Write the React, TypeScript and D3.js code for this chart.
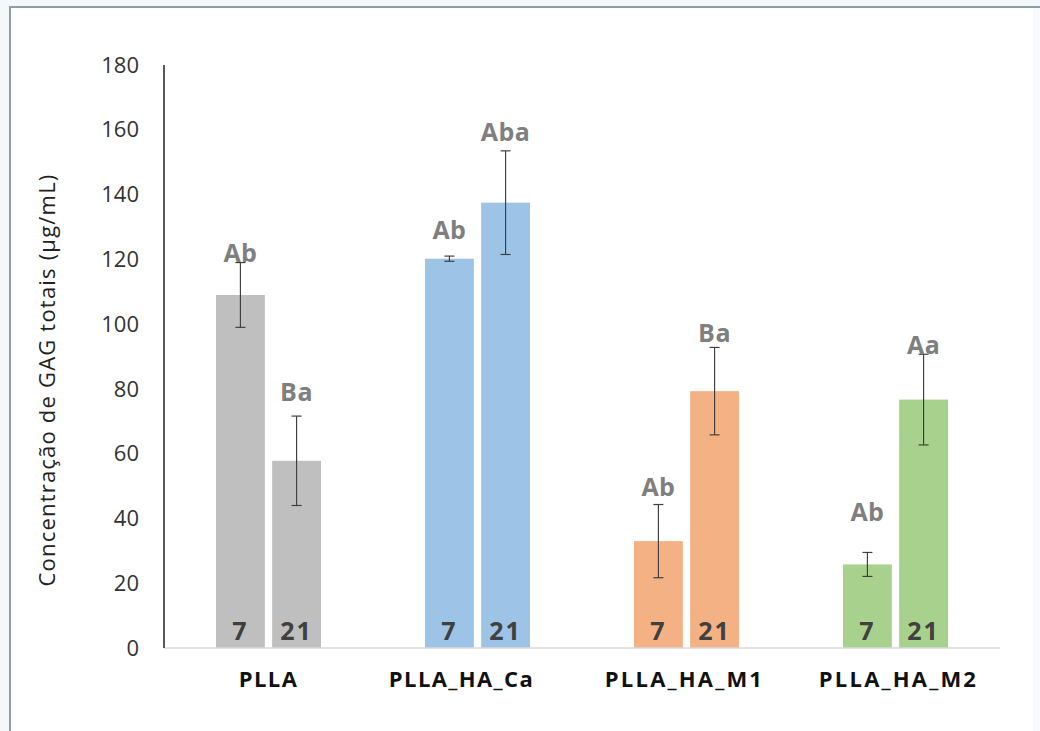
import React from "react";
import * as d3 from "d3";

const categories = ["PLLA", "PLLA_HA_Ca", "PLLA_HA_M1", "PLLA_HA_M2"];
const days = ["7", "21"];
const day7Values = [109, 120.2, 33, 25.8];
const day21Values = [57.8, 137.5, 79.3, 76.7];
const day7Errors = [10, 0.8, 11.3, 3.7];
const day21Errors = [13.8, 16, 13.5, 14];
const day7Letters = ["Ab", "Ab", "Ab", "Ab"];
const day21Letters = ["Ba", "Aba", "Ba", "Aa"];
const day7LetterLevel = [122, 129, 49.7, 42];
const day21LetterLevel = [79, 159.3, 97.3, 93.5];
const yTicks = [0, 20, 40, 60, 80, 100, 120, 140, 160, 180];
const yTitle = "Concentração de GAG totais (µg/mL)";

const colors = ["#bfbfbf", "#9dc3e6", "#f4b183", "#a9d18e"];

export default function App() {
  const W = 1040, H = 731;
  const left = 164, right = 1000, top = 65, bottom = 648;
  const x = d3.scaleBand<string>().domain(categories).range([left, right]).paddingInner(0).paddingOuter(0);
  const inner = d3.scaleBand<string>().domain(days).range([0, 105]).paddingInner(0.13).paddingOuter(0);
  const y = d3.scaleLinear().domain([0, 180]).range([bottom, top]);
  const bw = inner.bandwidth();
  const font = "'Open Sans', 'Liberation Sans', sans-serif";
  const catNudge: Record<string, number> = { PLLA: 0, PLLA_HA_Ca: -16, PLLA_HA_M1: -2, PLLA_HA_M2: 3 };
  const catSpacing: Record<string, number> = { PLLA: 1.4, PLLA_HA_Ca: 1.4, PLLA_HA_M1: 2.2, PLLA_HA_M2: 2.2 };

  const series = [
    { day: "7", values: day7Values, errors: day7Errors, letters: day7Letters, level: day7LetterLevel },
    { day: "21", values: day21Values, errors: day21Errors, letters: day21Letters, level: day21LetterLevel },
  ];

  return (
    <svg width={W} height={H} style={{ position: "absolute", left: 0, top: 0, display: "block" }}>
      <rect x={0} y={0} width={W} height={H} fill="#f3f9fb" />
      <rect x={10} y={7} width={1060} height={740} fill="#ffffff" stroke="#8e9ea3" strokeWidth={2} />
      <rect x={1033} y={8} width={7} height={H} fill="#f6fbfd" />
      {yTicks.map((t) => (
        <text key={t} x={139} y={y(t)} dy="0.35em" textAnchor="end" fontFamily={font} fontSize={22} fill="#333">
          {t}
        </text>
      ))}
      <text
        transform={`translate(47,${380}) rotate(-90)`}
        textAnchor="middle"
        dy="0.35em"
        fontFamily={font}
        fontSize={22}
        letterSpacing={1.2}
        fill="#222"
      >
        {yTitle}
      </text>
      {categories.map((c, i) => {
        const gx = (x(c) as number) + (x.bandwidth() - 105) / 2;
        return (
          <g key={c}>
            {series.map((s) => {
              const bx = gx + (inner(s.day) as number);
              const cx = bx + bw / 2;
              const v = s.values[i], e = s.errors[i];
              return (
                <g key={s.day}>
                  <rect x={bx} y={y(v)} width={bw} height={bottom - y(v)} fill={colors[i]} />
                  <line x1={cx} x2={cx} y1={y(v + e)} y2={y(v - e)} stroke="#404040" strokeWidth={1.2} />
                  <line x1={cx - 5} x2={cx + 5} y1={y(v + e)} y2={y(v + e)} stroke="#404040" strokeWidth={1.2} />
                  <line x1={cx - 5} x2={cx + 5} y1={y(v - e)} y2={y(v - e)} stroke="#404040" strokeWidth={1.2} />
                  <text x={cx} y={y(s.level[i])} dy="0.35em" textAnchor="middle" fontFamily={font} fontWeight={700} fontSize={25} letterSpacing={0.5} fill="#7f7f7f">
                    {s.letters[i]}
                  </text>
                  <text x={cx} y={640} textAnchor="middle" fontFamily={font} fontWeight={700} fontSize={25} letterSpacing={2} fill="#404040">
                    {s.day}
                  </text>
                </g>
              );
            })}
            <text x={(x(c) as number) + x.bandwidth() / 2 + catNudge[c]} y={679} dy="0.35em" textAnchor="middle" fontFamily={font} fontWeight={700} fontSize={22} letterSpacing={catSpacing[c]} fill="#111">
              {c}
            </text>
          </g>
        );
      })}
      <line x1={left} x2={right} y1={bottom} y2={bottom} stroke="#d9d9d9" strokeWidth={1.5} />
      <line x1={left} x2={left} y1={top} y2={bottom} stroke="#222" strokeWidth={1.5} />
    </svg>
  );
}
